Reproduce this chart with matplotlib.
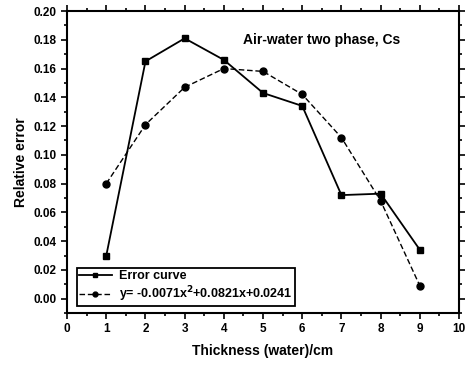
import numpy as np
import matplotlib.pyplot as plt
from matplotlib.ticker import MultipleLocator, FormatStrFormatter

plt.rcParams['font.family'] = ['Liberation Sans', 'DejaVu Sans']
plt.rcParams['font.weight'] = 'bold'

# data
thickness = [1, 2, 3, 4, 5, 6, 7, 8, 9]
error_curve = [0.030, 0.165, 0.181, 0.166, 0.143, 0.134, 0.072, 0.073, 0.034]
fit_curve = [0.080, 0.121, 0.147, 0.160, 0.158, 0.142, 0.112, 0.068, 0.009]
fit_label = 'y= -0.0071x$^2$+0.0821x+0.0241'

fig = plt.figure(figsize=(4.66, 3.67), dpi=100)
ax = fig.add_axes([0.144, 0.147, 0.841, 0.823])

ax.plot(thickness, error_curve, color='black', lw=1.3, marker='s', ms=5,
        label='Error curve')
ax.plot(thickness, fit_curve, color='black', lw=1.0, ls=(0, (4, 2)),
        marker='o', ms=5, label=fit_label)

ax.set_xlim(0, 10)
ax.set_ylim(-0.01, 0.20)
ax.xaxis.set_major_locator(MultipleLocator(1))
ax.xaxis.set_minor_locator(MultipleLocator(0.5))
ax.yaxis.set_major_locator(MultipleLocator(0.02))
ax.yaxis.set_minor_locator(MultipleLocator(0.01))
ax.yaxis.set_major_formatter(FormatStrFormatter('%.2f'))

ax.tick_params(which='both', direction='out', top=True, right=True,
               labelsize=8.5, width=1.2)
ax.tick_params(which='major', length=4)
ax.tick_params(which='minor', length=2.5)
for s in ax.spines.values():
    s.set_linewidth(1.5)

ax.set_xlabel('Thickness (water)/cm', fontsize=10, fontweight='bold',
              labelpad=6)
ax.set_ylabel('Relative error', fontsize=10, fontweight='bold')

ax.text(0.85, 0.904, 'Air-water two phase, Cs', transform=ax.transAxes,
        ha='right', va='center', fontsize=10, fontweight='bold')

leg = ax.legend(loc='lower left', bbox_to_anchor=(0.015, 0.01), fontsize=9,
                fancybox=False, edgecolor='black', framealpha=1,
                handlelength=2.6, handletextpad=0.6, borderpad=0.2,
                labelspacing=0.15, markerscale=0.7, borderaxespad=0.3)
leg.get_frame().set_linewidth(1.3)

fig.savefig('out.png', dpi=100)
